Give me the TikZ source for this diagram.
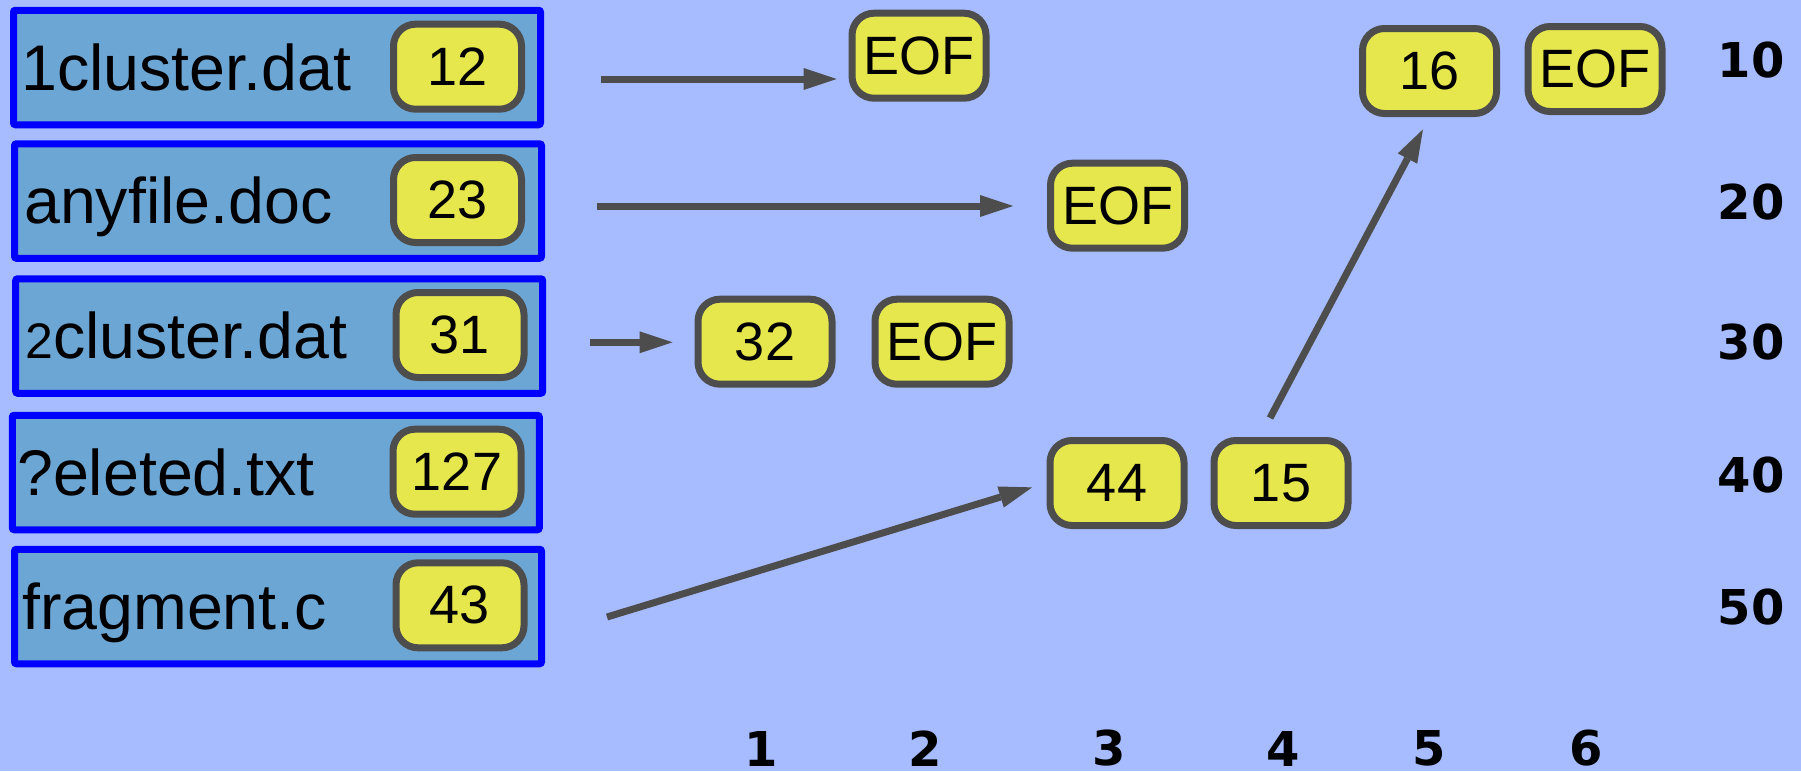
\documentclass[tikz,border=0pt]{standalone}
\usepackage{fontspec}
\setmainfont{Liberation Sans}
\newfontfamily\lblfont{DejaVu Sans}
\usetikzlibrary{arrows.meta}
\definecolor{bgblue}{RGB}{166,188,255}
\definecolor{fileblue}{RGB}{108,166,212}
\definecolor{clusteryellow}{RGB}{230,230,77}
\definecolor{edgegray}{RGB}{77,77,77}
\begin{document}
\begin{tikzpicture}[x=1pt,y=-1pt,
  filebox/.style={draw=blue, fill=fileblue, line width=7pt, rounded corners=2pt,
    minimum width=527pt, minimum height=114.5pt, inner sep=0pt},
  fname/.style={anchor=base west, inner sep=0pt, font=\fontsize{64.5}{64.5}\selectfont},
  cluster/.style={draw=edgegray, fill=clusteryellow, line width=7pt, rounded corners=22pt,
    minimum width=134pt, minimum height=85pt, inner sep=0pt,
    font=\fontsize{54}{54}\selectfont},
  firstcluster/.style={cluster, minimum width=128pt},
  axislabel/.style={inner sep=0pt, font=\lblfont\bfseries\fontsize{48}{48}\selectfont},
  link/.style={draw=edgegray, line width=7pt,
    -{Triangle[length=33pt,width=22pt,line width=0pt]}}]

% canvas
\fill[bgblue] (0,0) rectangle (1801,771);
\useasboundingbox (0,0) rectangle (1801,771);

% directory entries: name and first cluster
\node[filebox] (b1) at (277,67.5) {};
\node[fname] (t1) at (21,90) {1cluster.dat};
\node[firstcluster] (c12) at (457.5,66.7) {12};

\node[filebox] (b2) at (278,201) {};
\node[fname] (t2) at (24,223) {anyfile.doc};
\node[firstcluster] (c23) at (457.5,200) {23};

\node[filebox] (b3) at (279.2,336) {};
\node[fname] (t3) at (25,358.3) {{\fontsize{50}{50}\selectfont 2}cluster.dat};
\node[firstcluster] (c31) at (460,335) {31};

\node[filebox] (b4) at (275.8,472.5) {};
\node[fname] (t4) at (17,495) {?eleted.txt};
\node[firstcluster] (c127) at (457,471.7) {127};

\node[filebox] (b5) at (278,606.5) {};
\node[fname] (t5) at (22,629.5) {fragment.c};
\node[firstcluster] (c43) at (460,605.3) {43};

% cluster chain entries
\node[cluster] (e1) at (919,55.7) {EOF};
\node[cluster] (e2) at (1117.5,205.7) {EOF};
\node[cluster] (p32) at (765,341.7) {32};
\node[cluster] (e3) at (942,341.7) {EOF};
\node[cluster] (p44) at (1117,483) {44};
\node[cluster] (p15) at (1281,483) {15};
\node[cluster] (p16) at (1429.5,71) {16};
\node[cluster] (e4) at (1595,69) {EOF};

% arrow starts
\coordinate (a1) at (600.7,79);
\coordinate (a2) at (596.7,206);
\coordinate (a3) at (590,342.3);
\coordinate (a4) at (607,617);
\coordinate (a5) at (1270,418);

\draw[link, shorten >=12pt] (a1) -- (a1 -| e1.west);
\draw[link, shorten >=34pt] (a2) -- (a2 -| e2.west);
\draw[link, shorten >=22pt] (a3) -- (a3 -| p32.west);
\draw[link, shorten >=15pt] (a4) -- (p44.west);
\draw[link, shorten >=14pt] (a5) -- (p16.south);

% row labels
\node[axislabel] (r10) at (1751,60) {10};
\node[axislabel] (r20) at (1751,202.5) {20};
\node[axislabel] (r30) at (1751,342.5) {30};
\node[axislabel] (r40) at (1751,475) {40};
\node[axislabel] (r50) at (1751,607.5) {50};

% column labels
\node[axislabel] (k1) at (761,748.5) {1};
\node[axislabel] (k2) at (925.5,748.5) {2};
\node[axislabel] (k3) at (1109.6,748.5) {3};
\node[axislabel] (k4) at (1283.5,748.5) {4};
\node[axislabel] (k5) at (1429,748.5) {5};
\node[axislabel] (k6) at (1586.5,748.5) {6};
\end{tikzpicture}
\end{document}
